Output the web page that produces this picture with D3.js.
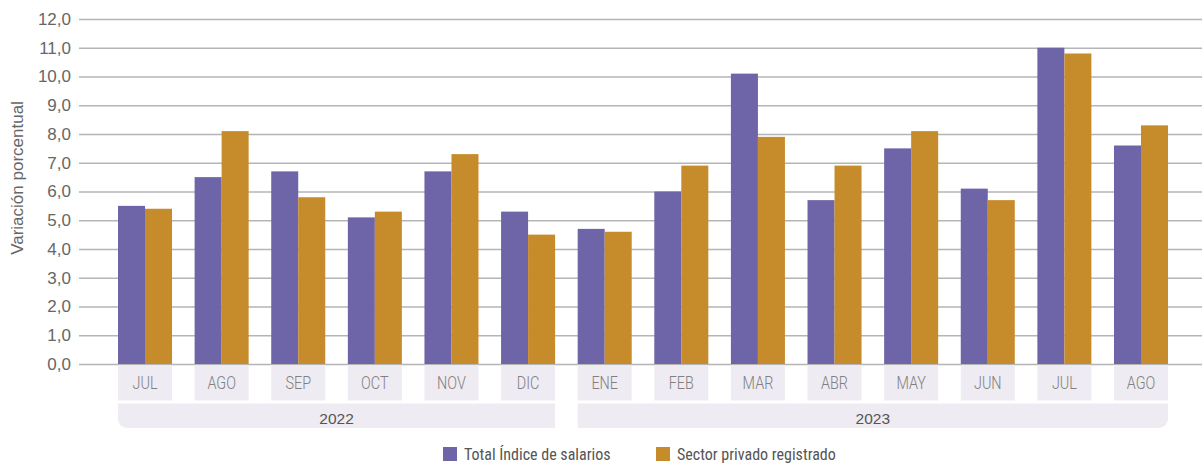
<!DOCTYPE html>
<html><head><meta charset="utf-8">
<script src="https://cdn.jsdelivr.net/npm/d3@7"></script>
<style>body{margin:0;background:#fff}svg{display:block}</style>
</head><body><svg id="c" width="1202" height="465"></svg>
<script>
const months = ["JUL","AGO","SEP","OCT","NOV","DIC","ENE","FEB","MAR","ABR","MAY","JUN","JUL","AGO"];
const years = [{label:"2022", from:0, to:5},{label:"2023", from:6, to:13}];
const totalIndice = [5.5,6.5,6.7,5.1,6.7,5.3,4.7,6.0,10.1,5.7,7.5,6.1,11.0,7.6];
const sectorPrivado = [5.4,8.1,5.8,5.3,7.3,4.5,4.6,6.9,7.9,6.9,8.1,5.7,10.8,8.3];
const yTicks = [0,1,2,3,4,5,6,7,8,9,10,11,12];
const seriesNames = ["Total Índice de salarios","Sector privado registrado"];
const colors = ["#6E64A8","#C68B2A"];

const svg = d3.select("#c");
const cond = "'Liberation Sans Narrow','Roboto Condensed','Liberation Sans',Arial,sans-serif";
const y = d3.scaleLinear().domain([0,12]).range([364,19]);
const x = d3.scaleBand().domain(d3.range(months.length)).range([106.7,1179.3]).paddingInner(0.295).paddingOuter(0.1475);
const xs = d3.scaleBand().domain([0,1]).range([0,x.bandwidth()]);

// grid
const yAxis = d3.axisLeft(y).tickValues(yTicks).tickSize(-(1202-79)).tickFormat(d=>d3.format(".1f")(d).replace(".",","));
const ga = svg.append("g").attr("transform","translate(79,0)").call(yAxis);
ga.select(".domain").remove();
ga.selectAll(".tick line").attr("stroke","#b5b5b5").attr("stroke-width",1.3);
ga.selectAll(".tick text").attr("x",-8).attr("fill","#666").style("font-family","'Liberation Sans',Arial,sans-serif").style("font-size","17px");

svg.append("text").attr("transform","translate(23,178) rotate(-90)").attr("text-anchor","middle")
  .attr("fill","#666").style("font-family","'Liberation Sans',Arial,sans-serif").style("font-size","17px").text("Variación porcentual");

// bars
const data = months.map((m,i)=>({i, vals:[totalIndice[i], sectorPrivado[i]]}));
const g = svg.append("g");
data.forEach(d=>{
  d.vals.forEach((v,k)=>{
    g.append("rect").attr("x",x(d.i)+xs(k)).attr("width",xs.bandwidth())
      .attr("y",y(v)).attr("height",y(0)-y(v)).attr("fill",colors[k]);
  });
});

// month label boxes
const boxFill = "#EEEBF2";
months.forEach((m,i)=>{
  svg.append("rect").attr("x",x(i)).attr("y",365).attr("width",x.bandwidth()).attr("height",35.5).attr("fill",boxFill);
  const cx = x(i)+x.bandwidth()/2;
  svg.append("text").attr("transform",`translate(${cx},389) scale(0.8,1)`).attr("text-anchor","middle")
    .attr("fill","#808080").style("font-family","Roboto,sans-serif").style("font-weight","300").style("font-size","18px").text(m);
});

// year boxes
years.forEach((yr,j)=>{
  const x0 = x(yr.from), x1 = x(yr.to)+x.bandwidth(), y0=403.5, y1=428, r=9;
  let p;
  if(j===0){
    p = `M${x0},${y0}H${x1}V${y1}H${x0+r}A${r},${r} 0 0 1 ${x0},${y1-r}Z`;
  } else {
    p = `M${x0},${y0}H${x1}V${y1-r}A${r},${r} 0 0 1 ${x1-r},${y1}H${x0}Z`;
  }
  svg.append("path").attr("d",p).attr("fill",boxFill);
  svg.append("text").attr("x",(x0+x1)/2).attr("y",423.5).attr("text-anchor","middle")
    .attr("fill","#555").style("font-family","'Liberation Sans',Arial,sans-serif").style("font-size","15.5px").text(yr.label);
});

// legend
const legX = [443,656];
seriesNames.forEach((s,k)=>{
  svg.append("rect").attr("x",legX[k]).attr("y",447).attr("width",14).attr("height",14).attr("fill",colors[k]);
  svg.append("text").attr("x",legX[k]+21).attr("y",460).attr("fill","#555")
    .style("font-family",cond).style("font-size","16px").text(s);
});
</script></body></html>
